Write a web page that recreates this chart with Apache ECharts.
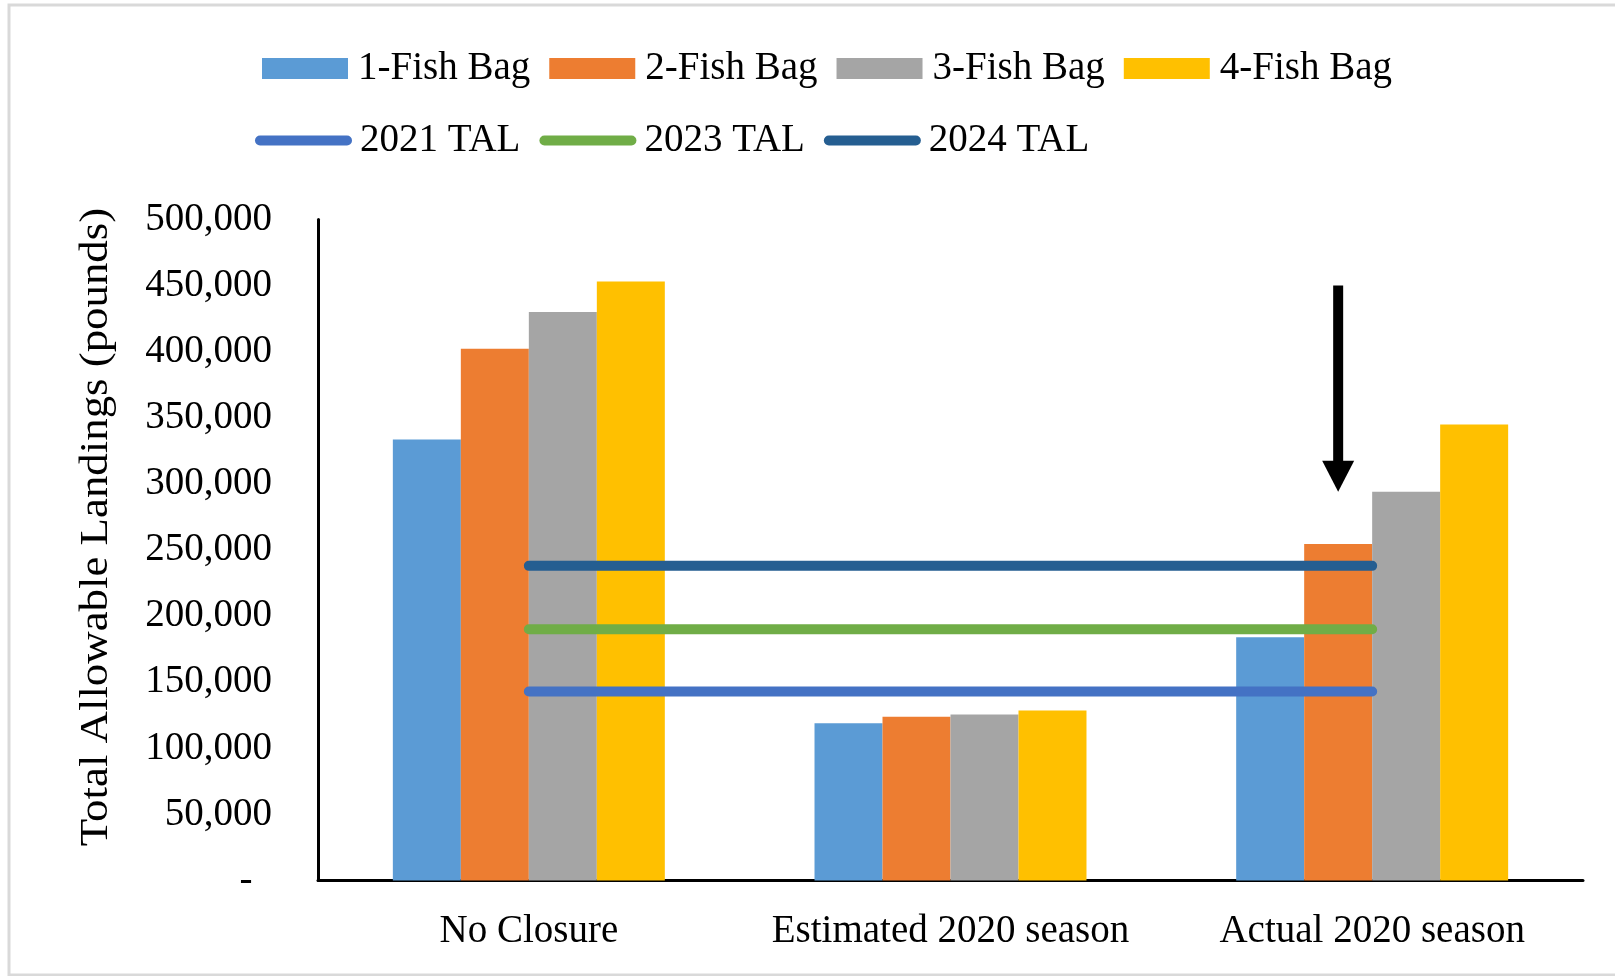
<!DOCTYPE html>
<html>
<head>
<meta charset="utf-8">
<script src="https://cdn.jsdelivr.net/npm/echarts@6/dist/echarts.min.js"></script>
<style>
  html, body { margin: 0; padding: 0; background: #fff; }
  #chart { width: 1615px; height: 976px; }
</style>
</head>
<body>
<div id="chart"></div>
<script>
// ---- data ----
var categories = ['No Closure', 'Estimated 2020 season', 'Actual 2020 season'];
var fish1 = [333500, 119000, 184000];
var fish2 = [402300, 123800, 254500];
var fish3 = [430100, 125500, 294000];
var fish4 = [453100, 128500, 345000];
var tal2021 = [143000, 143000, 143000];
var tal2023 = [190000, 190000, 190000];
var tal2024 = [238000, 238000, 238000];
var barNames = ['1-Fish Bag', '2-Fish Bag', '3-Fish Bag', '4-Fish Bag'];
var lineNames = ['2021 TAL', '2023 TAL', '2024 TAL'];
var arrowCategory = 'Actual 2020 season';
var arrowFrom = 450000;
var arrowTo = 294000;
var yTitle = 'Total Allowable Landings (pounds)';

// ---- style ----
var FONT = "'Liberation Serif', 'Times New Roman', serif";
var FS = 39;
var GAP = 0.355;
var barColors = ['#5B9BD5', '#ED7D31', '#A5A5A5', '#FFC000'];
var lineColors = ['#4472C4', '#70AD47', '#255E91'];
var capsule = 'path://M5,0L92,0A5,5,0,0,1,92,10L5,10A5,5,0,0,1,5,0Z';

var chart = echarts.init(document.getElementById('chart'), null, { renderer: 'canvas' });

var barData = [fish1, fish2, fish3, fish4];
var lineData = [tal2021, tal2023, tal2024];

var series = [];
barNames.forEach(function (n, i) {
  series.push({
    name: n, type: 'bar', data: barData[i],
    barGap: '0%', barCategoryGap: (GAP * 100) + '%',
    itemStyle: { color: barColors[i] },
    emphasis: { disabled: true }
  });
});
lineNames.forEach(function (n, i) {
  series.push({
    name: n, type: 'line', data: lineData[i],
    symbol: 'none', showSymbol: false,
    lineStyle: { width: 10, color: lineColors[i], cap: 'round' },
    itemStyle: { color: lineColors[i] },
    emphasis: { disabled: true },
    z: 5
  });
});
series.push({
  type: 'custom',
  name: 'arrow',
  z: 6,
  silent: true,
  encode: { x: 0, y: [1, 2] },
  data: [[categories.indexOf(arrowCategory), arrowFrom, arrowTo]],
  renderItem: function (params, api) {
    var top = api.coord([api.value(0), api.value(1)]);
    var tip = api.coord([api.value(0), api.value(2)]);
    var band = api.size([1, 0])[0];
    var barW = band * (1 - GAP) / 4;
    var x = top[0] - barW / 2;
    var headH = 31, headW = 32, shaftW = 10;
    return {
      type: 'group',
      children: [
        { type: 'rect', shape: { x: x - shaftW / 2, y: top[1], width: shaftW, height: tip[1] - headH - top[1] + 1 }, style: { fill: '#000' } },
        { type: 'polygon', shape: { points: [[x - headW / 2, tip[1] - headH], [x + headW / 2, tip[1] - headH], [x, tip[1]]] }, style: { fill: '#000' } }
      ]
    };
  }
});

var option = {
  animation: false,
  backgroundColor: '#fff',
  grid: { left: 318, right: 32, top: 219.5, bottom: 95.5, containLabel: false },
  legend: [
    {
      data: barNames, icon: 'rect', left: 257, top: 44,
      itemWidth: 86, itemHeight: 21, itemGap: 19, selectedMode: false,
      textStyle: { fontFamily: FONT, fontSize: FS, color: '#000', padding: [0, 0, 0, 5] }
    },
    {
      data: lineNames.map(function (n) { return { name: n, icon: capsule }; }),
      left: 250, top: 116,
      itemWidth: 97, itemHeight: 10, itemGap: 19, selectedMode: false,
      textStyle: { fontFamily: FONT, fontSize: FS, color: '#000', padding: [0, 0, 0, 3] }
    }
  ],
  xAxis: {
    type: 'category', data: categories,
    axisLine: { lineStyle: { color: '#000', width: 3 } },
    axisTick: { show: false },
    axisLabel: { fontFamily: FONT, fontSize: FS, color: '#000', margin: 32, interval: 0 }
  },
  yAxis: {
    type: 'value', min: 0, max: 500000, interval: 50000,
    axisLine: { show: true, lineStyle: { color: '#000', width: 3 } },
    axisTick: { show: false },
    splitLine: { show: false },
    axisLabel: {
      fontFamily: FONT, fontSize: FS, color: '#000', margin: 46,
      formatter: function (v) { return v === 0 ? '-  ' : v.toLocaleString('en-US'); }
    }
  },
  graphic: [
    {
      type: 'rect', shape: { x: 9, y: 5, width: 1640, height: 970 },
      style: { fill: 'none', stroke: '#d9d9d9', lineWidth: 3 }, silent: true, z: -1
    },
    {
      type: 'text', x: 97, y: 527, rotation: Math.PI / 2, scaleX: 1.15,
      style: { text: yTitle, font: FS + 'px ' + FONT, fill: '#000', align: 'center', verticalAlign: 'middle' },
      silent: true
    }
  ],
  series: series
};
chart.setOption(option);
</script>
</body>
</html>
